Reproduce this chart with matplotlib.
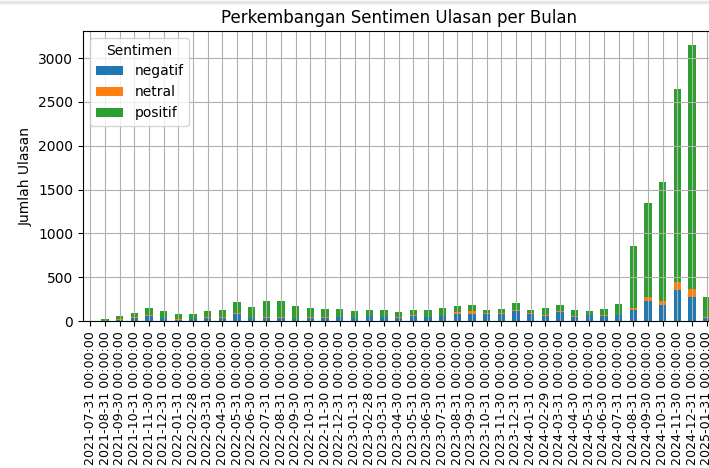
import matplotlib
matplotlib.use("Agg")
import matplotlib.pyplot as plt
from matplotlib.lines import Line2D
import pandas as pd

bulan = pd.date_range("2021-07-31", "2025-01-31", freq="ME")
labels = [str(d) for d in bulan]

negatif = [1, 3, 12, 31, 55, 31, 16, 23, 35, 39, 78, 31, 39, 31, 23, 31, 31, 47, 31, 55, 47,
           31, 55, 47, 55, 86, 86, 78, 78, 109, 78, 55, 98, 47, 70, 62, 70, 126, 225, 183,
           355, 279, 31]
netral = [0, 1, 8, 15, 15, 3, 8, 2, 10, 12, 18, 0, 12, 16, 2, 12, 12, 0, 0, 4, 0,
          12, 12, 0, 0, 16, 23, 12, 12, 16, 12, 12, 12, 12, 0, 12, 0, 19, 53, 46,
          95, 92, 12]
positif = [2, 20, 35, 48, 74, 79, 58, 57, 68, 74, 126, 133, 183, 187, 150, 109, 97, 93, 78, 62, 74,
           55, 62, 82, 97, 73, 78, 39, 50, 85, 31, 85, 77, 62, 39, 66, 129, 715, 1074, 1360,
           2193, 2781, 230]

df = pd.DataFrame({"negatif": negatif, "netral": netral, "positif": positif}, index=labels)

fig = plt.figure(figsize=(7.09, 4.68), dpi=100)
ax = fig.add_axes([0.1171, 0.314, 0.890, 0.6197])
df.plot(kind="bar", stacked=True, ax=ax)
ax.set_title("Perkembangan Sentimen Ulasan per Bulan")
ax.set_ylabel("Jumlah Ulasan")
ax.set_xlabel("")
ax.tick_params(axis="x", labelsize=9.1)
ax.grid(True)
ax.legend(title="Sentimen", loc="upper left")
fig.add_artist(Line2D([0, 1], [0.996, 0.996], transform=fig.transFigure,
                      color="#e6e6e6", lw=2.5))
fig.savefig("out.png", dpi=100)
